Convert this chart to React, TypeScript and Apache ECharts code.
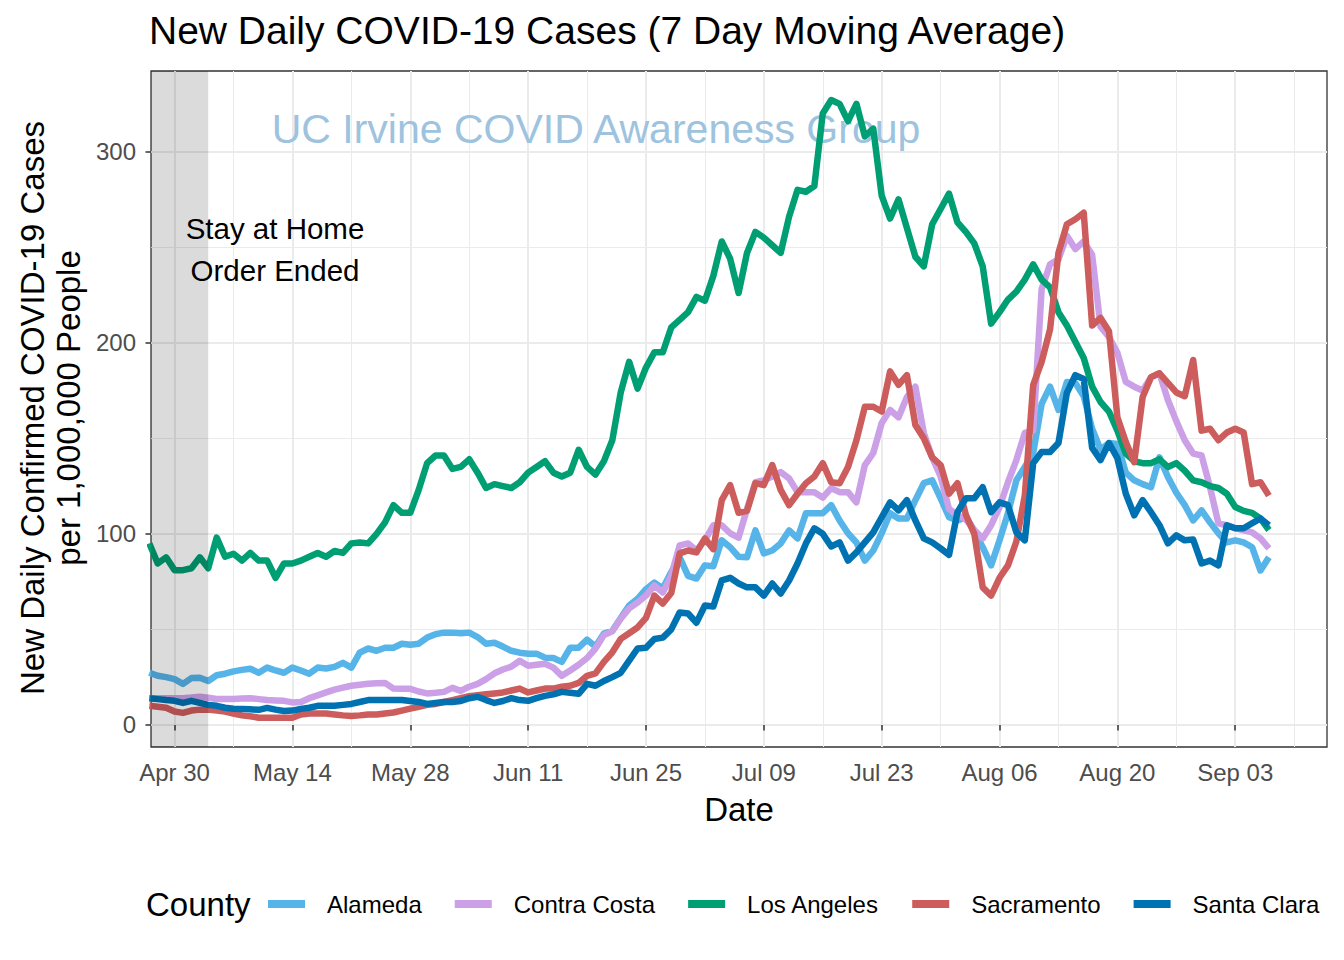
import React, { useEffect, useRef } from 'react';
import * as echarts from 'echarts';

// Day index 0 = Apr 27, 2020
const tickLabels = ['Apr 30', 'May 14', 'May 28', 'Jun 11', 'Jun 25', 'Jul 09', 'Jul 23', 'Aug 06', 'Aug 20', 'Sep 03'];
const tickDays = [3, 17, 31, 45, 59, 73, 87, 101, 115, 129];
const minorDays = [10, 24, 38, 52, 66, 80, 94, 108, 122, 136];
const yTicks = [0, 100, 200, 300];
const yMinor = [50, 150, 250];
const stayHomeEndDay = 7; // May 04

const counties = ['Alameda', 'Contra Costa', 'Los Angeles', 'Sacramento', 'Santa Clara'];
const colors = ['#56B4E9', '#CBA0E6', '#009E73', '#CD5C5C', '#0072B2'];

const alameda = [
  27.3, 25.7, 25, 24, 21.5, 24.5, 24.7, 23, 26, 26.8,
  28, 28.8, 29.4, 27.3, 30, 28.5, 27.3, 30, 28.5, 26.8,
  30, 29.5, 30.4, 32.5, 30, 37.8, 40, 38.8, 40.4, 40.4,
  42.5, 42, 42.5, 45.7, 47.5, 48.3, 48.3, 48, 48.3, 46,
  42.5, 43, 41, 38.8, 37.8, 37.3, 37.3, 35.2, 35, 33,
  40.4, 40.4, 44.6, 41, 47.8, 49.3, 56, 62.5, 66, 71,
  74.5, 71.4, 80, 87.7, 78, 76.6, 83.5, 83, 96.6, 93,
  88, 87.7, 101.8, 89.8, 91.3, 95, 101.8, 97.6, 110.8, 110.8,
  110.8, 115, 107, 100.3, 95.5, 86, 91.3, 100.3, 110.8, 108,
  108, 117.6, 126.5, 128, 118.6, 108.7, 107, 108.7, 101.8, 93,
  83.5, 96.6, 110.8, 128, 135, 142.3, 168, 177, 164.8, 179.5,
  179, 172, 155, 144, 147.5, 147, 132, 128, 126, 124.4,
  140, 129.7, 121.5, 115, 107, 112.3, 106, 100.3, 95.5, 96.6,
  95.5, 93, 80.8, 87.7,
];

const contraCosta = [
  14, 14, 14, 14, 14, 14.3, 14.7, 14.2, 13.6, 13.6,
  13.6, 13.8, 14, 13.5, 13, 12.8, 12.6, 11.8, 12, 14,
  15.5, 17, 18.5, 19.5, 20.5, 21, 21.5, 21.8, 22, 19,
  18.9, 18.9, 17.5, 16.5, 16.8, 17.3, 19.4, 17.8, 20, 21.5,
  24, 27, 29, 30.5, 33.6, 31, 31.5, 32, 30, 25.7,
  28.5, 31.5, 35, 40, 47, 49, 55.6, 61, 64, 67.7,
  73, 69.3, 78.2, 94, 95, 91.3, 96.6, 104.5, 104.5, 100.3,
  98, 113, 127, 128, 130, 132.3, 129, 121.8, 121.8, 121.8,
  119, 123.9, 121.8, 121.8, 116.5, 136, 142.3, 158, 164.8, 161,
  171.6, 177, 152.8, 140, 130, 113, 110, 107.5, 102, 97.6,
  104.5, 114, 127, 138.6, 152.8, 154, 228, 241, 243.6, 256,
  249, 253, 246, 208.4, 203, 194.7, 179.5, 177, 175, 182,
  184, 170, 159, 149, 142, 141, 124.4, 105.5, 104.5, 103,
  101.8, 100.8, 97.6, 92.4,
];

const losAngeles = [
  95, 84.5, 87.7, 81, 81, 82, 87.7, 82, 98, 88,
  89.6, 86, 90, 86, 86, 77, 84.5, 84.5, 86, 88,
  90, 88, 91, 90, 95, 95.5, 95, 100, 106, 115,
  111, 111, 123, 137, 141, 141, 134, 135, 139, 132,
  124, 126, 125, 124, 127, 132, 135, 138, 132, 130,
  132, 144, 135, 131, 138, 149, 174, 190, 176, 187,
  195, 195, 208, 212, 216, 224, 222, 235, 253, 244,
  226, 247, 258, 255, 251, 247, 266, 280, 279, 282,
  320, 327, 325, 316, 325, 308, 312, 277, 265, 275,
  260, 245, 240, 262, 270, 278, 263, 258, 252, 240,
  210, 216, 222.6, 226.8, 233, 241, 233, 229, 216, 209,
  200.5, 192, 177, 169, 164, 154, 142, 138, 137, 137,
  139, 135, 137, 133, 128, 127, 125, 124, 121, 114,
  112, 111, 108, 102,
];

const sacramento = [
  10, 9.5, 9, 7, 6.3, 7.5, 8, 8, 7.5, 7,
  6, 5, 4.5, 3.8, 3.7, 3.7, 3.7, 3.8, 5.5, 6,
  6, 6, 5.5, 5, 4.7, 5, 5.5, 5.5, 6, 6.5,
  7.5, 8.5, 9.5, 10.5, 11, 12, 13, 14, 15, 15.5,
  16, 16.5, 17, 18, 19, 17, 18, 19, 19, 20,
  20.5, 22, 25.7, 27, 33, 38, 45, 48, 51, 56,
  67.7, 63.5, 69, 89.8, 91.3, 90.3, 97.6, 92, 117.6, 125.5,
  111, 112, 126.5, 125.5, 136, 123, 115, 121, 126.5, 130,
  137, 127, 126.5, 135, 149, 166.5, 166.5, 164, 185, 178,
  183, 157, 150, 140, 136, 121, 126.5, 110, 100, 72,
  67.7, 77, 83.5, 96, 120, 178, 190, 207, 247, 262,
  264.6, 268, 209, 213, 206, 161, 148, 137.5, 171.6, 182,
  184, 179, 174, 172, 191, 154, 155, 149, 153, 155,
  153, 126, 127, 120,
];

const santaClara = [
  14, 13.5, 13, 12.6, 11.5, 12.6, 11.5, 10.5, 10, 9,
  8.5, 8.4, 8.2, 7.9, 8.9, 8, 7.3, 7.5, 8.4, 9,
  10, 10, 10, 10.5, 11, 12, 13, 13, 13, 13,
  13, 12.5, 12, 11, 11.5, 12, 12, 12.5, 14, 14.7,
  13, 11.5, 12.5, 14, 13, 12.6, 14, 15.2, 16, 17.3,
  16.8, 16.3, 21.5, 20.5, 23, 25, 27.3, 33.6, 40, 40.4,
  45, 45.7, 50, 58.8, 58.3, 53.5, 62.5, 62, 75.6, 77,
  74, 72, 72, 67.7, 74, 68.8, 75.6, 84.5, 95, 102.9,
  100, 93.4, 95.5, 86, 90.3, 95.5, 100.8, 108.7, 116.5, 112.3,
  117.6, 107, 97.6, 95.5, 92.4, 89, 111.3, 118.6, 118.6, 124.4,
  111.3, 116.5, 115, 100.8, 96.6, 137, 142.8, 142.8, 147.5, 173.8,
  183, 181, 145, 138.6, 147.5, 139.6, 121, 109.7, 117.6, 111.3,
  104.5, 95, 99.2, 96.6, 97, 84.5, 86, 83.5, 104.5, 102.9,
  102.9, 105.5, 108, 104.5,
];

const seriesValues = [alameda, contraCosta, losAngeles, sacramento, santaClara];

const X_MIN = 0.2;
const X_MAX = 139.9;
const Y_MIN = -11.55;
const Y_MAX = 342.2;
const FONT = "'Liberation Sans', Arial, Helvetica, sans-serif";

export default function App() {
  const ref = useRef<HTMLDivElement>(null);

  useEffect(() => {
    if (!ref.current) return;
    const chart = echarts.init(ref.current, undefined, { renderer: 'svg' });

    const lineSeries = counties.map((name, k) => ({
      name,
      type: 'line',
      data: seriesValues[k].map((v, i) => [i, v]),
      showSymbol: false,
      symbol: 'none',
      color: colors[k],
      lineStyle: { width: 6.5, color: colors[k], join: 'round', cap: 'butt' },
      emphasis: { disabled: true },
      z: 2 + k * 0.01,
      clip: true,
      silent: true,
    }));

    const option: any = {
      animation: false,
      textStyle: { fontFamily: FONT },
      title: {
        text: 'New Daily COVID-19 Cases (7 Day Moving Average)',
        left: 149,
        top: 11,
        padding: 0,
        textStyle: { fontSize: 39, fontWeight: 'normal', color: '#000', fontFamily: FONT, lineHeight: 39 },
      },
      grid: {
        left: 151,
        top: 71,
        right: 17,
        bottom: 213,
        show: true,
        borderColor: '#333333',
        borderWidth: 1.3,
        backgroundColor: 'transparent',
        containLabel: false,
      },
      legend: {
        data: counties,
        left: 268,
        top: 892,
        padding: 0,
        icon: 'rect',
        itemWidth: 37,
        itemHeight: 8,
        itemGap: 33,
        selectedMode: false,
        textStyle: { fontSize: 24, color: '#000', fontFamily: FONT, padding: [0, 0, 0, 17] },
      },
      xAxis: [
        {
          type: 'value',
          min: X_MIN,
          max: X_MAX,
          axisLine: { show: false },
          axisTick: {
            show: true,
            customValues: tickDays,
            length: 5.5,
            lineStyle: { color: '#333333', width: 1.5 },
          },
          axisLabel: {
            customValues: tickDays,
            formatter: (v: number) => {
              const idx = tickDays.indexOf(Math.round(v));
              return idx >= 0 ? tickLabels[idx] : '';
            },
            fontSize: 24,
            color: '#4d4d4d',
            margin: 13,
            fontFamily: FONT,
          },
          splitLine: { show: true, lineStyle: { color: '#ebebeb', width: 2 } },
          name: 'Date',
          nameLocation: 'middle',
          nameGap: 46,
          nameTextStyle: { fontSize: 33, color: '#000', fontFamily: FONT },
        },
        {
          type: 'value',
          min: X_MIN,
          max: X_MAX,
          position: 'bottom',
          axisLine: { show: false },
          axisTick: { show: false, customValues: minorDays },
          axisLabel: { show: false, customValues: minorDays },
          splitLine: { show: true, lineStyle: { color: '#ebebeb', width: 1 } },
        },
      ],
      yAxis: [
        {
          type: 'value',
          min: Y_MIN,
          max: Y_MAX,
          axisLine: { show: false },
          axisTick: {
            show: true,
            customValues: yTicks,
            length: 5.5,
            lineStyle: { color: '#333333', width: 1.5 },
          },
          axisLabel: {
            customValues: yTicks,
            fontSize: 24,
            color: '#4d4d4d',
            margin: 15,
            fontFamily: FONT,
          },
          splitLine: { show: true, lineStyle: { color: '#ebebeb', width: 2 } },
        },
        {
          type: 'value',
          min: Y_MIN,
          max: Y_MAX,
          position: 'left',
          axisLine: { show: false },
          axisTick: { show: false, customValues: yMinor },
          axisLabel: { show: false, customValues: yMinor },
          splitLine: { show: true, lineStyle: { color: '#ebebeb', width: 1 } },
        },
      ],
      graphic: [
        {
          type: 'text',
          x: 596,
          y: 129,
          z: 1,
          silent: true,
          style: {
            text: 'UC Irvine COVID Awareness Group',
            fontSize: 41,
            fontFamily: FONT,
            fill: '#9dc3df',
            align: 'center',
            verticalAlign: 'middle',
            textAlign: 'center',
            textVerticalAlign: 'middle',
          },
        },
        {
          type: 'text',
          x: 275,
          y: 249,
          z: 20,
          silent: true,
          style: {
            text: 'Stay at Home\nOrder Ended',
            fontSize: 29.5,
            lineHeight: 42,
            fontFamily: FONT,
            fill: '#000',
            align: 'center',
            verticalAlign: 'middle',
            textAlign: 'center',
            textVerticalAlign: 'middle',
          },
        },
        {
          type: 'text',
          x: 50,
          y: 408,
          rotation: Math.PI / 2,
          silent: true,
          style: {
            text: 'New Daily Confirmed COVID-19 Cases\nper 1,000,000 People',
            fontSize: 33,
            lineHeight: 36,
            fontFamily: FONT,
            fill: '#000',
            align: 'center',
            verticalAlign: 'middle',
            textAlign: 'center',
            textVerticalAlign: 'middle',
          },
        },
        {
          type: 'text',
          x: 146,
          y: 904,
          silent: true,
          style: {
            text: 'County',
            fontSize: 33,
            fontFamily: FONT,
            fill: '#000',
            align: 'left',
            verticalAlign: 'middle',
            textAlign: 'left',
            textVerticalAlign: 'middle',
          },
        },
      ],
      series: [
        ...lineSeries,
        {
          name: 'stay-home-shade',
          type: 'custom',
          silent: true,
          z: 10,
          clip: true,
          data: [[stayHomeEndDay]],
          renderItem: (params: any, api: any) => {
            const p0 = api.coord([X_MIN, Y_MAX]);
            const p1 = api.coord([api.value(0), Y_MIN]);
            return {
              type: 'rect',
              shape: { x: p0[0], y: p0[1], width: p1[0] - p0[0], height: p1[1] - p0[1] },
              style: { fill: 'rgba(0,0,0,0.14)' },
            };
          },
        },
      ],
    };

    chart.setOption(option);
    return () => {
      chart.dispose();
    };
  }, []);

  return (
    <div
      ref={ref}
      style={{ position: 'absolute', left: 0, top: 0, width: 1344, height: 960, background: '#fff' }}
    />
  );
}
